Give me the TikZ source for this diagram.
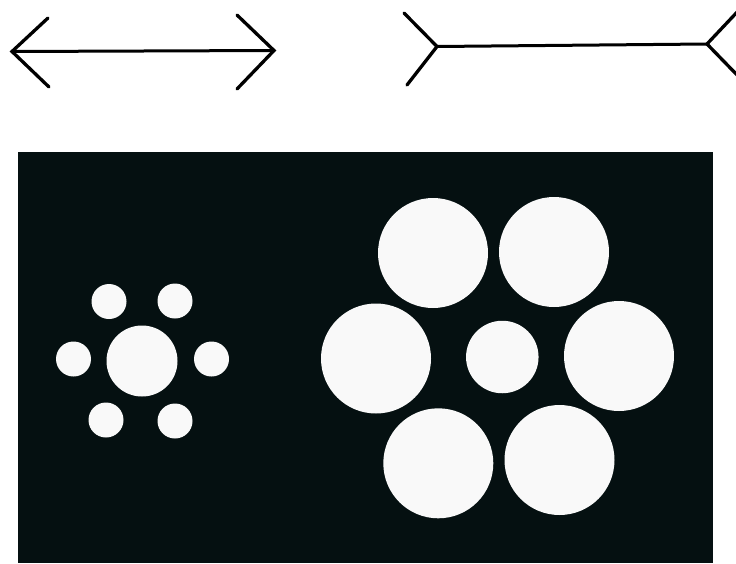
\documentclass[tikz,border=0pt]{standalone}
\definecolor{bgdark}{RGB}{5,16,17}
\definecolor{disc}{RGB}{249,249,249}
\begin{document}
\begin{tikzpicture}[x=1pt,y=-1pt,
  fin/.style={line width=3.3pt,line cap=round,line join=miter},
  shaft/.style={line width=3pt},
  dot/.style={circle,fill=disc,inner sep=0pt,draw=none}]
\useasboundingbox (0,0) rectangle (736,563);
\fill[white] (0,0) rectangle (736,563);
% Mueller-Lyer: arrows pointing out
\coordinate (aL) at (12,51.5);
\coordinate (aR) at (274,50.5);
\draw[shaft] (aL) -- (aR);
\draw[fin] (48,18) -- (aL) -- (49,87);
\draw[fin] (237,15) -- (aR) -- (237,89);
% Mueller-Lyer: fins pointing in
\begin{scope}
\clip (0,0) rectangle (736,120);
\coordinate (bL) at (437,46.5);
\coordinate (bR) at (707,44);
\draw[shaft] (bL) -- (bR);
\draw[fin] (404,13) -- (bL) -- (407,85);
\draw[fin] (740,9) -- (bR) -- (740,78);
\end{scope}
% Ebbinghaus
\fill[bgdark] (18,152) rectangle (713,563);
% left cluster
\node[dot,minimum size=71pt] (lc) at (142,361) {};
\foreach \n/\x/\y in {1/109/301.5,2/175/301,3/73.5/359,4/211.5/359,5/106/420,6/175/421}
  \node[dot,minimum size=35pt] (ls\n) at (\x,\y) {};
% right cluster
\node[dot,minimum size=72.5pt] (rc) at (502.3,357) {};
\foreach \n/\x/\y in {1/433/253,2/554/252,3/376/358.5,4/619/356,5/438.3/463.3,6/559.5/460}
  \node[dot,minimum size=110pt] (rs\n) at (\x,\y) {};
\end{tikzpicture}
\end{document}
